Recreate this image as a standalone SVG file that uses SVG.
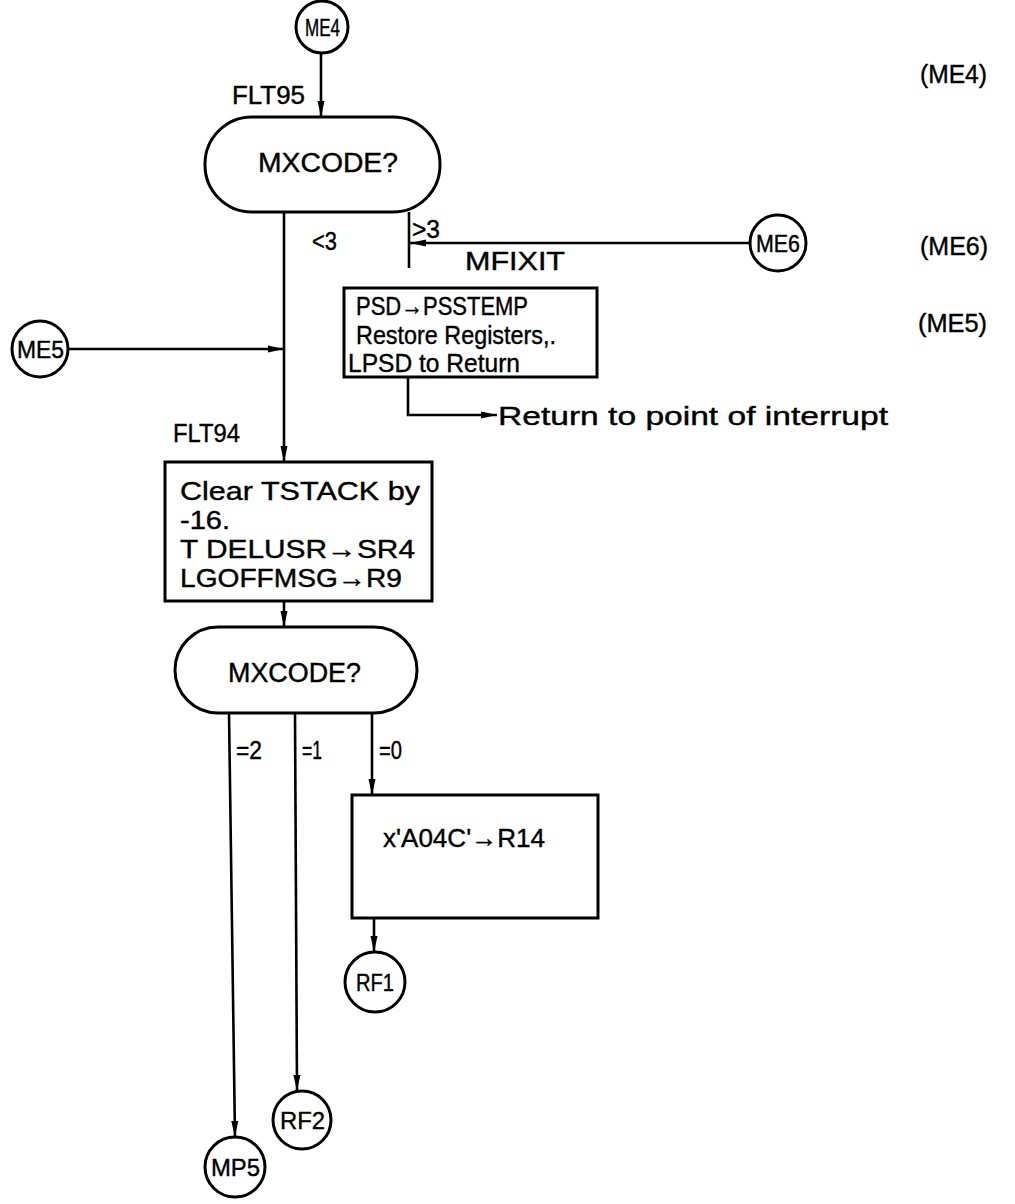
<svg xmlns="http://www.w3.org/2000/svg" width="1015" height="1204" viewBox="0 0 1015 1204">
<defs>
<style>
.s{fill:none;stroke:#000;stroke-width:3}
.c{fill:none;stroke:#000;stroke-width:2.6}
.t{font-family:"Liberation Sans",Arial,sans-serif;font-size:26px;fill:#000;stroke:#000;stroke-width:0.4}
.m{font-family:"Liberation Sans",Arial,sans-serif;font-size:27px;fill:#000;stroke:#000;stroke-width:0.4}
.n{font-family:"Liberation Sans",Arial,sans-serif;font-size:24px;fill:#000;stroke:#000;stroke-width:0.4}
</style>
<marker id="ah" markerUnits="userSpaceOnUse" markerWidth="16" markerHeight="8" refX="16" refY="4" orient="auto">
<path d="M0,0.5 L16,4 L0,7.5 z" fill="#000"/>
</marker>
</defs>
<g id="connectors">
<line class="c" x1="321" y1="52" x2="321" y2="117" marker-end="url(#ah)"/>
<line class="c" x1="284" y1="212" x2="284" y2="462" marker-end="url(#ah)"/>
<line class="c" x1="68" y1="349" x2="284" y2="349" marker-end="url(#ah)"/>
<line class="c" x1="284" y1="601" x2="284" y2="627" marker-end="url(#ah)"/>
<line class="c" x1="229" y1="713" x2="235" y2="1137" marker-end="url(#ah)"/>
<line class="c" x1="295" y1="713" x2="297" y2="1091" marker-end="url(#ah)"/>
<line class="c" x1="372" y1="713" x2="372" y2="795" marker-end="url(#ah)"/>
<line class="c" x1="374" y1="918" x2="374" y2="952" marker-end="url(#ah)"/>
<line class="c" x1="409" y1="212" x2="409" y2="268"/>
<line class="c" x1="750" y1="243" x2="410" y2="243" marker-end="url(#ah)"/>
<polyline class="c" points="408,377 408,415 497,415" marker-end="url(#ah)"/>
</g>
<g id="ME4"><circle class="s" cx="322" cy="27" r="26"/><text class="n" x="305" y="36" textLength="35" lengthAdjust="spacingAndGlyphs">ME4</text></g>
<g id="decision1"><rect class="s" x="205" y="117" width="235" height="95" rx="47"/><text class="m" x="258" y="172" textLength="140" lengthAdjust="spacingAndGlyphs">MXCODE?</text></g>
<g id="ME5"><circle class="s" cx="40" cy="349" r="28"/><text class="n" x="17" y="358" textLength="47" lengthAdjust="spacingAndGlyphs">ME5</text></g>
<g id="ME6"><circle class="s" cx="778" cy="243" r="28"/><text class="n" x="756" y="252" textLength="44" lengthAdjust="spacingAndGlyphs">ME6</text></g>
<g id="box-psd"><rect class="s" x="344" y="288" width="253" height="89"/>
<text class="t" x="356" y="315" textLength="172" lengthAdjust="spacingAndGlyphs">PSD→PSSTEMP</text>
<text class="t" x="356" y="344" textLength="200" lengthAdjust="spacingAndGlyphs">Restore Registers,.</text>
<text class="t" x="348" y="372" textLength="172" lengthAdjust="spacingAndGlyphs">LPSD to Return</text></g>
<g id="box-clear"><rect class="s" x="165" y="462" width="267" height="139"/>
<text class="t" x="180" y="500" textLength="240" lengthAdjust="spacingAndGlyphs">Clear TSTACK by</text>
<text class="t" x="180" y="529" textLength="50" lengthAdjust="spacingAndGlyphs">-16.</text>
<text class="t" x="180" y="558" textLength="235" lengthAdjust="spacingAndGlyphs">T DELUSR→SR4</text>
<text class="t" x="180" y="587" textLength="222" lengthAdjust="spacingAndGlyphs">LGOFFMSG→R9</text></g>
<g id="decision2"><rect class="s" x="175" y="627" width="242" height="86" rx="43"/><text class="m" x="228" y="682" textLength="133" lengthAdjust="spacingAndGlyphs">MXCODE?</text></g>
<g id="box-r14"><rect class="s" x="352" y="795" width="246" height="123"/><text class="t" x="383" y="847" textLength="162" lengthAdjust="spacingAndGlyphs">x'A04C'→R14</text></g>
<g id="RF1"><circle class="s" cx="375" cy="982" r="30"/><text class="n" x="356" y="991" textLength="38" lengthAdjust="spacingAndGlyphs">RF1</text></g>
<g id="RF2"><circle class="s" cx="302" cy="1120" r="29"/><text class="n" x="280" y="1129" textLength="45" lengthAdjust="spacingAndGlyphs">RF2</text></g>
<g id="MP5"><circle class="s" cx="235" cy="1167" r="30"/><text class="n" x="211" y="1176" textLength="49" lengthAdjust="spacingAndGlyphs">MP5</text></g>
<g id="labels">
<text class="t" x="232" y="104" textLength="73" lengthAdjust="spacingAndGlyphs">FLT95</text>
<text class="t" x="312" y="250" textLength="25" lengthAdjust="spacingAndGlyphs">&lt;3</text>
<text class="t" x="412" y="238" textLength="28" lengthAdjust="spacingAndGlyphs">&gt;3</text>
<text class="t" x="465" y="270" textLength="100" lengthAdjust="spacingAndGlyphs">MFIXIT</text>
<text class="t" x="173" y="442" textLength="67" lengthAdjust="spacingAndGlyphs">FLT94</text>
<text class="t" x="498" y="425" textLength="390" lengthAdjust="spacingAndGlyphs">Return to point of interrupt</text>
<text class="t" x="236" y="759" textLength="26" lengthAdjust="spacingAndGlyphs">=2</text>
<text class="t" x="302" y="759" textLength="20" lengthAdjust="spacingAndGlyphs">=1</text>
<text class="t" x="379" y="759" textLength="23" lengthAdjust="spacingAndGlyphs">=0</text>
<text class="t" x="920" y="83" textLength="67" lengthAdjust="spacingAndGlyphs">(ME4)</text>
<text class="t" x="920" y="255" textLength="68" lengthAdjust="spacingAndGlyphs">(ME6)</text>
<text class="t" x="918" y="332" textLength="69" lengthAdjust="spacingAndGlyphs">(ME5)</text>
</g>
</svg>
